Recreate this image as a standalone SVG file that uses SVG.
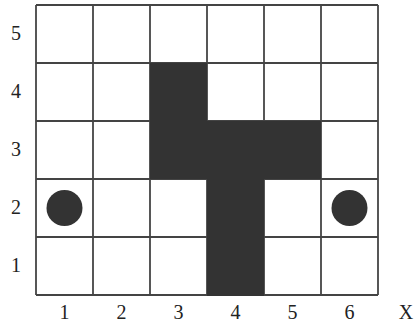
<svg xmlns="http://www.w3.org/2000/svg" width="417" height="324" viewBox="0 0 417 324">
<style>
.lbl{font-family:"Liberation Serif","Times New Roman",serif;font-size:20px;fill:#222;text-anchor:middle}
.grid line{stroke:#444;stroke-width:1.8}
.blk{fill:#333}
</style>
<rect width="417" height="324" fill="#fff"/>
<g id="grid" class="grid">
<line x1="36" y1="5" x2="36" y2="295"/>
<line x1="93" y1="5" x2="93" y2="295"/>
<line x1="150" y1="5" x2="150" y2="295"/>
<line x1="207" y1="5" x2="207" y2="295"/>
<line x1="264" y1="5" x2="264" y2="295"/>
<line x1="321" y1="5" x2="321" y2="295"/>
<line x1="378" y1="5" x2="378" y2="295"/>
<line x1="36" y1="5" x2="378" y2="5"/>
<line x1="36" y1="63" x2="378" y2="63"/>
<line x1="36" y1="121" x2="378" y2="121"/>
<line x1="36" y1="179" x2="378" y2="179"/>
<line x1="36" y1="237" x2="378" y2="237"/>
<line x1="36" y1="295" x2="378" y2="295"/>
</g>
<g id="shape">
<path class="blk" d="M150,63 H207 V121 H321 V179 H264 V295.9 H207 V179 H150 Z"/>
</g>
<g id="dots">
<circle cx="64.5" cy="208" r="18" fill="#333"/>
<circle cx="349.5" cy="208" r="18" fill="#333"/>
</g>
<g id="labels">
<text class="lbl" x="16" y="40">5</text>
<text class="lbl" x="16" y="98">4</text>
<text class="lbl" x="16" y="156">3</text>
<text class="lbl" x="16" y="214">2</text>
<text class="lbl" x="16" y="272">1</text>
<text class="lbl" x="64.5" y="319">1</text>
<text class="lbl" x="121.5" y="319">2</text>
<text class="lbl" x="178.5" y="319">3</text>
<text class="lbl" x="235.5" y="319">4</text>
<text class="lbl" x="292.5" y="319">5</text>
<text class="lbl" x="349.5" y="319">6</text>
<text class="lbl" x="406" y="319">X</text>
</g>
</svg>
